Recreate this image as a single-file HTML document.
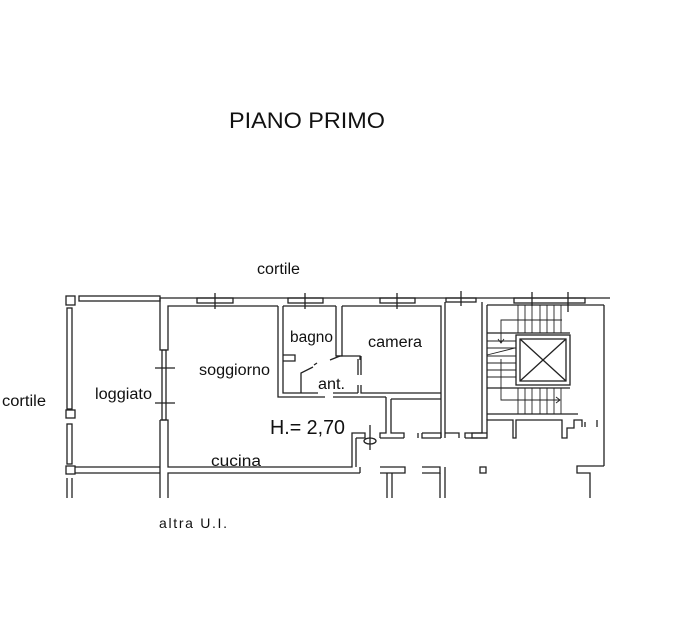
<!DOCTYPE html>
<html><head><meta charset="utf-8"><style>
html,body{margin:0;padding:0;background:#fff;}
svg{display:block;}
text{font-family:"Liberation Sans",sans-serif;fill:#111;}
</style></head><body>
<svg width="693" height="623" viewBox="0 0 693 623" xmlns="http://www.w3.org/2000/svg">
<rect width="693" height="623" fill="#fff"/>
<text x="229" y="128" font-size="22" textLength="156" lengthAdjust="spacingAndGlyphs">PIANO PRIMO</text>
<text x="257" y="274" font-size="15.5" textLength="43" lengthAdjust="spacingAndGlyphs">cortile</text>
<text x="2" y="406" font-size="15.5" textLength="44" lengthAdjust="spacingAndGlyphs">cortile</text>
<text x="159" y="528" font-size="14" textLength="68" lengthAdjust="spacing">altra  U.I.</text>
<text x="290" y="342" font-size="15.5" textLength="43" lengthAdjust="spacingAndGlyphs">bagno</text>
<text x="368" y="347" font-size="15.5" textLength="54" lengthAdjust="spacingAndGlyphs">camera</text>
<text x="199" y="375" font-size="15.5" textLength="71" lengthAdjust="spacingAndGlyphs">soggiorno</text>
<text x="318" y="389" font-size="15.5" textLength="27" lengthAdjust="spacingAndGlyphs">ant.</text>
<text x="95" y="399" font-size="15.5" textLength="57" lengthAdjust="spacingAndGlyphs">loggiato</text>
<text x="270" y="434" font-size="20" textLength="75" lengthAdjust="spacingAndGlyphs">H.= 2,70</text>
<text x="211" y="466" font-size="15.5" textLength="50" lengthAdjust="spacingAndGlyphs">cucina</text>
<g fill="none" stroke="#222" stroke-width="1.3">
<line x1="160" y1="298" x2="610" y2="298"/>
<rect x="79" y="296" width="81" height="5"/>
<rect x="66" y="296" width="9" height="9"/>
<rect x="67" y="308" width="5" height="101"/>
<rect x="66" y="410" width="9" height="8"/>
<rect x="67" y="424" width="5" height="40"/>
<rect x="66" y="466" width="9" height="8"/>
<line x1="75" y1="467" x2="160" y2="467"/>
<line x1="75" y1="473" x2="160" y2="473"/>
<line x1="67" y1="478" x2="67" y2="498"/>
<line x1="72" y1="478" x2="72" y2="498"/>
<polyline points="160,298 160,350 168,350 168,306 278,306"/>
<rect x="162" y="350" width="4" height="70"/>
<line x1="155" y1="368" x2="175" y2="368"/>
<line x1="155" y1="403" x2="175" y2="403"/>
<polyline points="160,420 168,420 168,467 352,467 352,433 358,433"/>
<line x1="160" y1="420" x2="160" y2="498"/>
<polyline points="168,498 168,473 360,473"/>
<rect x="197" y="298" width="36" height="5"/><line x1="215" y1="293" x2="215" y2="309"/>
<rect x="288" y="298" width="35" height="5"/><line x1="305" y1="293" x2="305" y2="309"/>
<rect x="380" y="298" width="35" height="5"/><line x1="397" y1="293" x2="397" y2="309"/>
<rect x="446" y="298" width="30" height="4"/><line x1="461" y1="291" x2="461" y2="306"/>
<rect x="514" y="298" width="71" height="5"/><line x1="532" y1="292" x2="532" y2="306"/><line x1="568" y1="292" x2="568" y2="312"/>
<polyline points="278,306 278,397 325,397"/>
<polyline points="283,306 283,393 318,393"/>
<line x1="283" y1="306" x2="336" y2="306"/>
<polyline points="336,306 336,356 342,356 342,306"/>
<polyline points="283,355 295,355 295,361 283,361"/>
<polyline points="301,393 301,373 313,367"/>
<line x1="314" y1="365" x2="317" y2="363"/>
<polyline points="330,360 340,356"/>
<polyline points="336,356 360,356 360,360"/>
<line x1="333" y1="397" x2="386" y2="397"/>
<line x1="333" y1="393" x2="358" y2="393"/>
<line x1="358" y1="359" x2="358" y2="375"/>
<line x1="361" y1="356" x2="361" y2="375"/>
<polyline points="358,385 358,393"/><polyline points="361,385 361,393 441,393"/>
<polyline points="342,306 441,306 441,395"/>
<line x1="445" y1="302" x2="445" y2="438"/>
<line x1="441" y1="395" x2="441" y2="438"/>
<polyline points="386,397 386,433 380,433 380,438"/>
<polyline points="391,399 441,399"/>
<polyline points="391,399 391,433 404,433 404,438"/>
<line x1="356" y1="438" x2="356" y2="467"/>
<polyline points="358,433 365,433 365,438 356,438"/>
<line x1="370" y1="425" x2="370" y2="450"/>
<ellipse cx="370" cy="441" rx="6" ry="3"/>
<line x1="380" y1="438" x2="404" y2="438"/>
<polyline points="418,433 418,438"/>
<polyline points="422,433 441,433 441,438"/>
<polyline points="422,433 422,438 441,438"/>
<polyline points="459,438 459,433 445,433"/>
<polyline points="465,438 465,433 482,433 482,302"/>
<line x1="465" y1="438" x2="487" y2="438"/>
<polyline points="360,467 360,473"/>
<polyline points="380,473 405,473 405,467 380,467"/>
<line x1="387" y1="473" x2="387" y2="498"/>
<line x1="392" y1="473" x2="392" y2="498"/>
<polyline points="422,473 440,473 440,467 422,467"/>
<line x1="440" y1="473" x2="440" y2="498"/>
<line x1="445" y1="467" x2="445" y2="498"/>
<rect x="480" y="467" width="6" height="6"/>
<line x1="487" y1="305" x2="487" y2="420"/>
<line x1="487" y1="305" x2="604" y2="305"/>
<line x1="604" y1="305" x2="604" y2="466"/>
<polyline points="604,466 577,466 577,473 590,473 590,498"/>
<polyline points="487,414 578,414"/>
<polyline points="487,420 487,433 472,433 472,438 487,438 487,420 513,420 513,438 516,438 516,420 562,420 562,438 567,438 567,428 574,428 574,420 582,420 582,427"/>
<polyline points="597,420 597,427"/>
<line x1="585" y1="422" x2="585" y2="427"/>
<rect x="516" y="335" width="54" height="50"/>
<rect x="520" y="339" width="46" height="42"/>
<line x1="520" y1="339" x2="566" y2="381"/>
<line x1="566" y1="339" x2="520" y2="381"/>
<line x1="487" y1="333" x2="570" y2="333"/>
<line x1="487" y1="388" x2="570" y2="388"/>
<g stroke-width="0.9">
<line x1="518" y1="305" x2="518" y2="333"/><line x1="525" y1="305" x2="525" y2="333"/><line x1="532" y1="305" x2="532" y2="333"/><line x1="540" y1="305" x2="540" y2="333"/><line x1="547" y1="305" x2="547" y2="333"/><line x1="554" y1="305" x2="554" y2="333"/><line x1="561" y1="305" x2="561" y2="333"/>
<line x1="518" y1="388" x2="518" y2="414"/><line x1="525" y1="388" x2="525" y2="414"/><line x1="532" y1="388" x2="532" y2="414"/><line x1="540" y1="388" x2="540" y2="414"/><line x1="547" y1="388" x2="547" y2="414"/><line x1="554" y1="388" x2="554" y2="414"/><line x1="561" y1="388" x2="561" y2="414"/>
<line x1="487" y1="341" x2="516" y2="341"/><line x1="487" y1="348" x2="516" y2="348"/><line x1="487" y1="356" x2="516" y2="356"/><line x1="487" y1="363" x2="516" y2="363"/><line x1="487" y1="370" x2="516" y2="370"/><line x1="487" y1="377" x2="516" y2="377"/>
<polyline points="562,320 501,320 501,343"/>
<polyline points="498,339 501,343 504,339"/>
<line x1="487" y1="355" x2="515" y2="348"/>
<polyline points="501,359 501,400 560,400"/>
<polyline points="556,397 560,400 556,403"/>
</g>
</g>
</svg>
</body></html>
